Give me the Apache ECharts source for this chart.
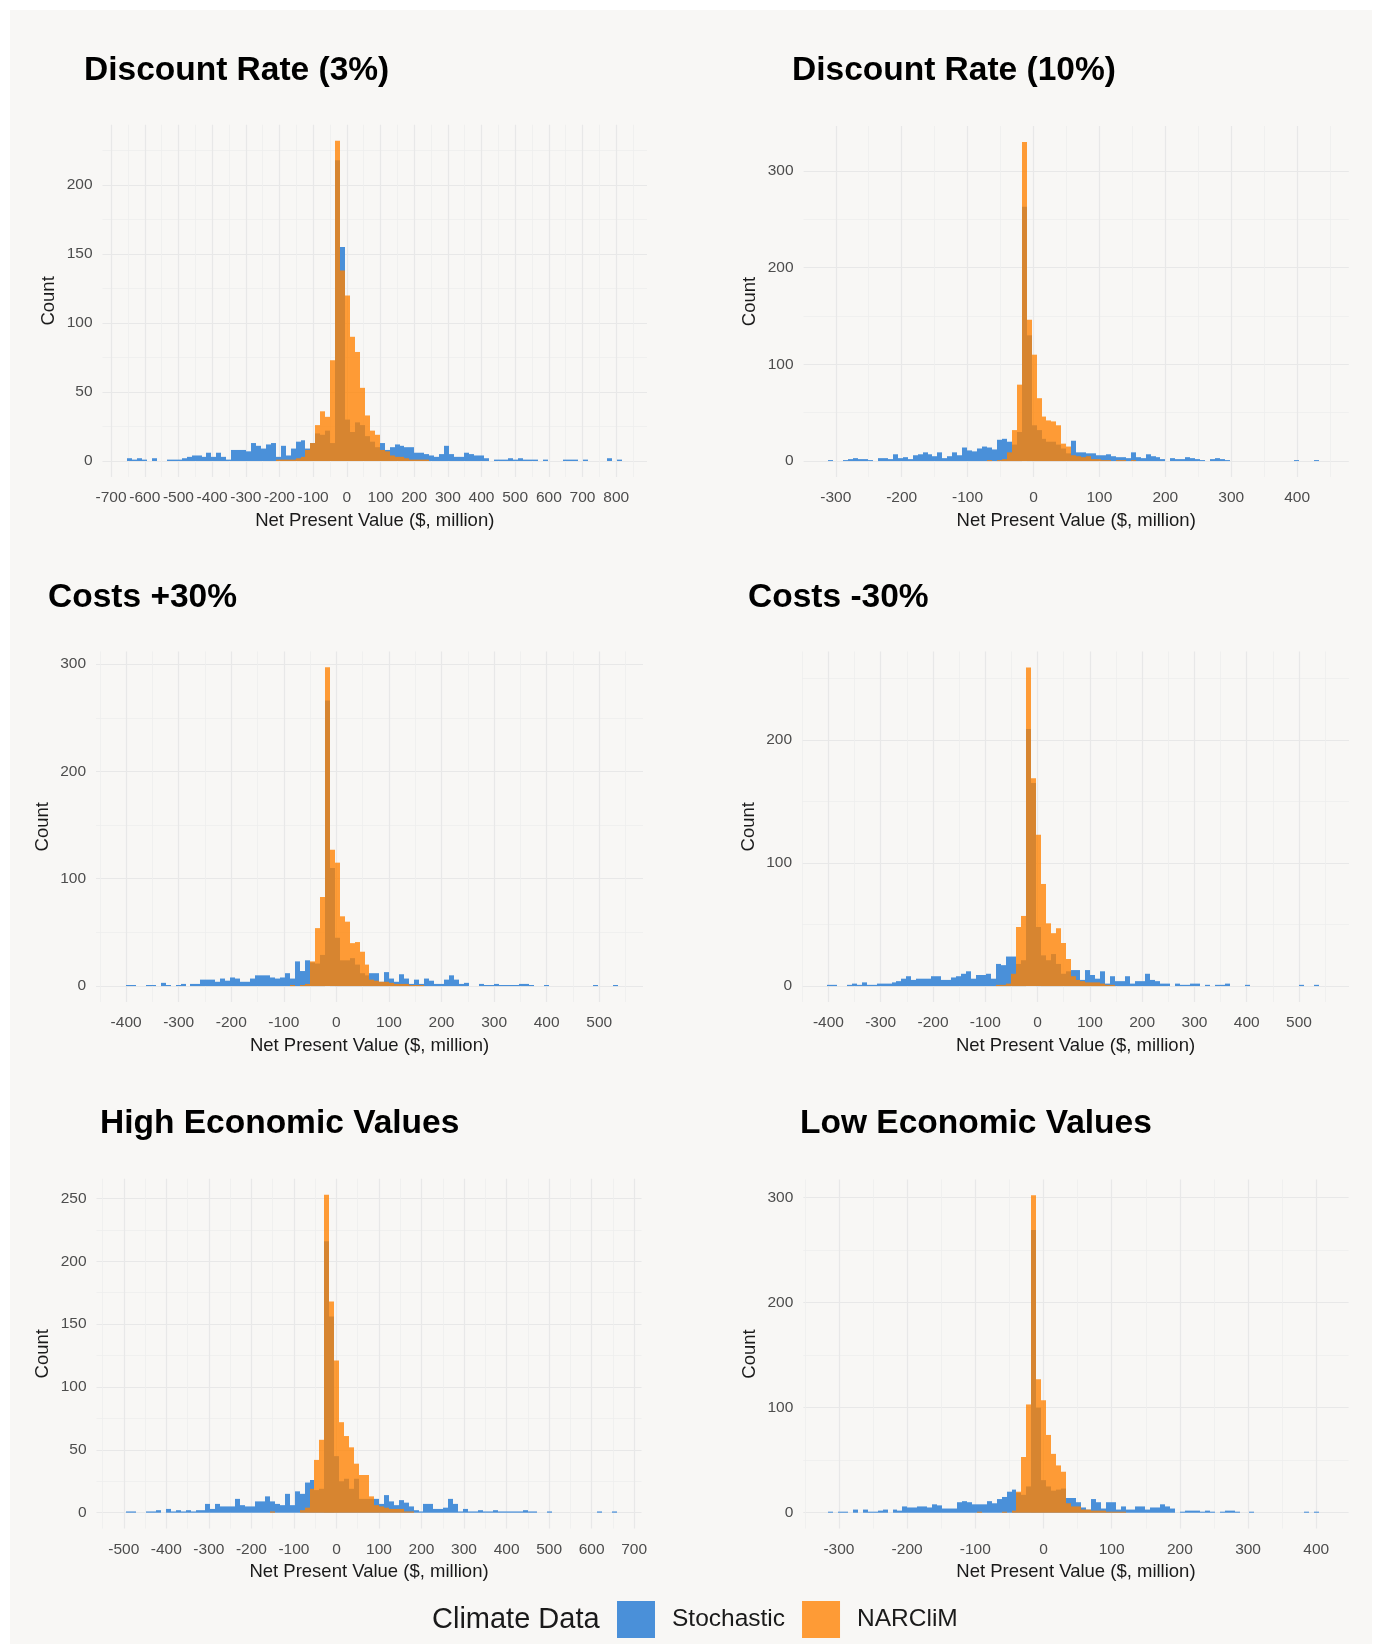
<!DOCTYPE html>
<html><head><meta charset="utf-8">
<script src="https://cdn.jsdelivr.net/npm/echarts@6/dist/echarts.min.js"></script>
<style>
html,body{margin:0;padding:0;background:#ffffff;}
#bg{position:absolute;left:10px;top:10px;width:1362px;height:1634px;background:#F8F7F5;}
#chart{position:absolute;left:0;top:0;width:1377px;height:1644px;}
</style></head><body>
<div id="bg"></div><div id="chart"></div>
<script>
// ---------- data ----------
const titles = ['Discount Rate (3%)','Discount Rate (10%)','Costs +30%','Costs -30%','High Economic Values','Low Economic Values'];
const seriesNames = ['Stochastic','NARCliM'];
const binStart = [-652, -311.2, -410, -403, -506, -315.9];
const binWidth = [14.7, 7.52, 9.46, 9.51, 11.65, 7.27];

const stochastic1 = [2,1,2,1,0,2,0,0,1,1, 1,2,3,4,4,3,6,3,6,3, 1,8,8,8,7,13,11,9,12,13, 3,11,4,9,14,15,9,13,20,19,
  22,13,218,155,30,21,28,26,18,14, 10,13,8,10,12,11,10,10,6,6, 5,4,3,5,11,5,3,3,6,5, 4,4,2,0,1,1,1,2,1,2,
  1,1,1,0,1,0,0,0,1,1, 1,0,1,0,0,0,0,2,0,1];
const narclim1 = [0,0,0,0,0,0,0,0,0,0, 0,0,0,0,0,0,0,0,0,0, 0,0,0,0,0,0,0,0,0,0, 1,1,1,1,2,3,8,13,26,36,
  32,73,232,138,120,90,79,53,33,22, 19,8,7,4,3,3,2,1,1,1, 1,0,0,0,0,0,0,0,0,0, 0,0,0,0,0,0,0,0,0,0,
  0,0,0,0,0,0,0,0,0,0, 0,0,0,0,0,0,0,0,0,0];

const stochastic2 = [1,0,0,1,2,3,2,2,1,0, 3,3,2,7,3,4,2,6,7,9, 7,5,9,3,5,9,6,14,11,10, 13,15,14,12,22,23,20,17,30,263,
  130,37,32,23,20,20,17,13,8,21, 9,9,8,8,6,6,7,5,4,4, 3,9,4,3,7,5,4,2,0,3, 2,2,4,3,2,1,0,2,3,2,
  1,0,0,0,0,0,0,0,0,0, 0,0,0,0,1,0,0,0,1,0];
const narclim2 = [0,0,0,0,0,0,0,0,0,0, 0,0,0,0,0,0,0,0,0,0, 0,0,0,0,0,0,0,0,0,0, 0,0,1,0,1,2,9,32,79,330,
  146,110,65,46,42,41,37,18,15,6, 5,4,5,2,2,1,1,0,1,1, 0,1,0,0,0,0,0,0,0,0, 0,0,0,0,0,0,0,0,0,0,
  0,0,0,0,0,0,0,0,0,0, 0,0,0,0,0,0,0,0,0,0];

const stochastic3 = [0,1,1,0,0,1,1,0,3,1, 0,1,2,0,2,2,6,6,6,4, 7,5,8,7,4,4,7,10,10,10, 8,7,8,12,7,23,14,24,22,21,
  29,266,110,45,24,24,26,20,12,10, 12,12,4,13,7,4,11,7,2,6, 2,7,5,2,2,6,10,6,2,3, 0,0,2,1,1,2,1,1,1,1,
  2,2,1,0,0,1,0,0,0,0, 0,0,0,0,0,1,0,0,0,1];
const narclim3 = [0,0,0,0,0,0,0,0,0,0, 0,0,0,0,0,0,0,0,0,0, 0,0,0,0,0,0,0,0,0,0, 0,0,0,0,1,0,1,2,23,54,
  83,297,127,115,65,60,40,41,32,20, 6,5,4,4,3,2,2,2,1,1, 1,0,0,0,0,0,0,0,0,0, 0,0,0,0,0,0,0,0,0,0,
  0,0,0,0,0,0,0,0,0,0, 0,0,0,0,0,0,0,0,0,0];

const stochastic4 = [1,1,0,0,1,2,1,3,1,1, 2,2,2,3,4,6,8,5,6,6, 6,8,8,5,5,7,8,10,12,6, 9,9,10,6,18,17,24,24,18,21,
  209,165,48,25,21,26,18,10,12,13, 13,5,13,9,6,12,2,8,4,4, 8,2,4,4,10,5,4,2,2,0, 2,1,1,2,2,0,1,0,1,1,
  2,0,0,0,1,0,0,0,0,0, 0,0,0,0,0,1,0,0,1,0];
const narclim4 = [0,0,0,0,0,0,0,0,0,0, 0,0,0,0,0,0,0,0,0,0, 0,0,0,0,0,0,0,0,0,0, 0,0,0,0,1,1,2,10,48,57,
  259,169,123,83,51,43,47,35,22,8, 5,4,3,3,3,2,1,1,0,0, 0,0,0,0,0,0,0,0,0,0, 0,0,0,0,0,0,0,0,0,0,
  0,0,0,0,0,0,0,0,0,0, 0,0,0,0,0,0,0,0,0,0];

const stochastic5 = [0,1,1,0,0,1,1,2,0,3, 1,2,1,2,1,2,2,7,3,7, 5,5,5,11,6,5,5,9,9,13, 9,7,6,15,6,17,15,24,26,18,
  19,216,156,45,25,27,19,27,11,11, 11,11,7,14,9,6,10,8,5,2, 1,7,7,3,3,4,11,7,1,3, 1,1,2,1,1,2,1,1,1,1,
  1,2,1,1,0,0,1,0,0,0, 0,0,0,0,0,0,1,0,0,1];
const narclim5 = [0,0,0,0,0,0,0,0,0,0, 0,0,0,0,0,0,0,0,0,0, 0,0,0,0,0,0,0,0,0,0, 1,0,0,0,0,0,2,4,19,42,
  58,253,168,121,72,61,52,39,30,30, 13,6,5,4,3,3,3,1,1,0, 0,0,0,0,0,0,0,0,0,0, 0,0,0,0,0,0,0,0,0,0,
  0,0,0,0,0,0,0,0,0,0, 0,0,0,0,0,0,0,0,0,0];

const stochastic6 = [1,0,1,1,0,3,0,3,1,1, 2,3,0,3,2,6,5,5,6,6, 5,8,7,4,4,4,10,11,10,8, 8,8,11,9,13,15,20,22,19,17,
  25,269,100,31,25,21,22,23,14,14, 10,5,3,13,10,4,10,10,3,6, 3,3,6,6,3,5,5,8,6,4, 0,1,2,2,2,1,2,1,0,1,
  2,2,1,0,0,1,0,0,0,0, 0,0,0,0,0,0,1,0,1,0];
const narclim6 = [0,0,0,0,0,0,0,0,0,0, 0,0,0,0,0,0,0,0,0,0, 0,0,0,0,0,0,0,0,0,0, 1,0,0,0,0,1,0,2,20,53,
  103,302,127,107,74,56,45,39,9,6, 6,3,3,2,2,2,1,1,1,1, 0,0,0,0,0,0,0,0,0,0, 0,0,0,0,0,0,0,0,0,0,
  0,0,0,0,0,0,0,0,0,0, 0,0,0,0,0,0,0,0,0,0];

const xTicks1 = [-700,-600,-500,-400,-300,-200,-100,0,100,200,300,400,500,600,700,800];
const xTicks2 = [-300,-200,-100,0,100,200,300,400];
const xTicks3 = [-400,-300,-200,-100,0,100,200,300,400,500];
const xTicks4 = [-400,-300,-200,-100,0,100,200,300,400,500];
const xTicks5 = [-500,-400,-300,-200,-100,0,100,200,300,400,500,600,700];
const xTicks6 = [-300,-200,-100,0,100,200,300,400];
const yTicks1 = [0,50,100,150,200];
const yTicks2 = [0,100,200,300];
const yTicks3 = [0,100,200,300];
const yTicks4 = [0,100,200];
const yTicks5 = [0,50,100,150,200,250];
const yTicks6 = [0,100,200,300];

// ---------- layout / style ----------
const stochList = [stochastic1,stochastic2,stochastic3,stochastic4,stochastic5,stochastic6];
const narcList = [narclim1,narclim2,narclim3,narclim4,narclim5,narclim6];
const xTickList = [xTicks1,xTicks2,xTicks3,xTicks4,xTicks5,xTicks6];
const yTickList = [yTicks1,yTicks2,yTicks3,yTicks4,yTicks5,yTicks6];
const gridBoxes = [
  {left:102.5, top:124.8, width:544.5, height:352.2},
  {left:803.6, top:126, width:545.2, height:351},
  {left:96, top:651.4, width:547, height:350.6},
  {left:802, top:651.5, width:547, height:350.5},
  {left:96.5, top:1178.8, width:545, height:349.8},
  {left:803.3, top:1179.4, width:545.3, height:349.2}
];
const titlePos = [[84,54],[792,54],[48,581],[748,581],[100,1107],[800,1107]];
const COLORS = ['#4A90D9','rgba(255,130,0,0.78)'];
const FONT = 'Liberation Sans, Arial, sans-serif';

function minorsOf(ticks, lo, hi){
  const step = ticks[1]-ticks[0];
  const out = [];
  const cands = [ticks[0]-step/2].concat(ticks.map(t=>t+step/2));
  cands.forEach(v=>{ if(v>=lo && v<=hi) out.push(v); });
  return out;
}
function makeRender(color){
  return function(params, api){
    const c = api.value(2);
    if(!c) return null;
    const a = api.coord([api.value(0), 0]);
    const b = api.coord([api.value(1), c]);
    const x0 = Math.round(a[0]), x1 = Math.round(b[0]);
    return {type:'rect', shape:{x:x0, y:b[1], width:x1-x0, height:a[1]-b[1]}, style:{fill:color}};
  };
}

const option = {
  animation:false,
  textStyle:{fontFamily:FONT},
  title:[], grid:[], xAxis:[], yAxis:[], series:[],
  legend:{
    data:seriesNames, left:617, top:1601, padding:0, itemWidth:38, itemHeight:37, itemGap:17,
    icon:'rect', selectedMode:false,
    textStyle:{fontSize:24.5, color:'#1a1a1a', fontFamily:FONT, padding:[0,0,0,12]}
  }
};
option.title.push({text:'Climate Data', left:432, top:1605, padding:0,
  textStyle:{fontSize:29, fontWeight:'normal', color:'#1a1a1a', fontFamily:FONT}});

for(let i=0;i<6;i++){
  const n = stochList[i].length;
  const lo = binStart[i], hi = binStart[i] + binWidth[i]*n;
  const R = hi-lo;
  const xmin = lo-0.05*R, xmax = hi+0.05*R;
  const ymaxData = Math.max(Math.max.apply(null, stochList[i]), Math.max.apply(null, narcList[i]));
  const ymin = -0.05*ymaxData, ymax = 1.05*ymaxData;
  const xt = xTickList[i], yt = yTickList[i];
  const xm = minorsOf(xt, xmin, xmax), ym = minorsOf(yt, ymin, ymax);

  option.title.push({text:titles[i], left:titlePos[i][0], top:titlePos[i][1], padding:0,
    textStyle:{fontSize:33.5, fontWeight:'bold', color:'#000', fontFamily:FONT}});
  option.grid.push(Object.assign({containLabel:false}, gridBoxes[i]));

  option.xAxis.push({type:'value', gridIndex:i, min:xmin, max:xmax, position:'bottom',
    axisLine:{show:false}, axisTick:{show:false, customValues:xt},
    axisLabel:{customValues:xt, fontSize:15.5, color:'#4D4D4D', margin:13, fontFamily:FONT},
    splitLine:{show:true, lineStyle:{color:'#E8E8E8', width:1.2}},
    name:'Net Present Value ($, million)', nameLocation:'middle', nameGap:34,
    nameTextStyle:{fontSize:18.5, color:'#1a1a1a', fontFamily:FONT}});
  option.xAxis.push({type:'value', gridIndex:i, min:xmin, max:xmax, position:'top',
    axisLine:{show:false}, axisTick:{show:false, customValues:xm},
    axisLabel:{show:false, customValues:xm},
    splitLine:{show:true, lineStyle:{color:'#EEEDED', width:0.8}}});
  option.yAxis.push({type:'value', gridIndex:i, min:ymin, max:ymax, position:'left',
    axisLine:{show:false}, axisTick:{show:false, customValues:yt},
    axisLabel:{customValues:yt, fontSize:15.5, color:'#4D4D4D', margin:10, fontFamily:FONT},
    splitLine:{show:true, lineStyle:{color:'#E8E8E8', width:1.2}},
    name:'Count', nameLocation:'middle', nameGap:44,
    nameTextStyle:{fontSize:18.5, color:'#1a1a1a', fontFamily:FONT}});
  option.yAxis.push({type:'value', gridIndex:i, min:ymin, max:ymax, position:'right',
    axisLine:{show:false}, axisTick:{show:false, customValues:ym},
    axisLabel:{show:false, customValues:ym},
    splitLine:{show:true, lineStyle:{color:'#EEEDED', width:0.8}}});

  [stochList[i], narcList[i]].forEach((arr, k)=>{
    const data = arr.map((c, j)=>[binStart[i]+binWidth[i]*j, binStart[i]+binWidth[i]*(j+1), c]);
    option.series.push({type:'custom', name:seriesNames[k], xAxisIndex:2*i, yAxisIndex:2*i,
      data:data, encode:{x:[0,1], y:2}, itemStyle:{color:COLORS[k]},
      renderItem:makeRender(COLORS[k]), z:2+k});
  });
}

const chart = echarts.init(document.getElementById('chart'), null, {renderer:'canvas'});
chart.setOption(option);
</script>
</body></html>
